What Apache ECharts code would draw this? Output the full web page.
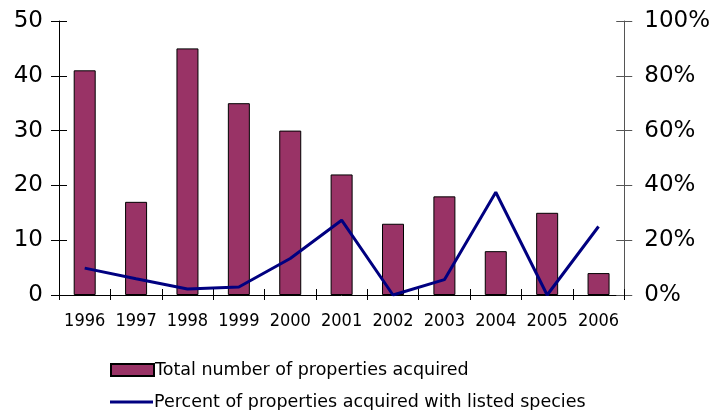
<!DOCTYPE html>
<html>
<head>
<meta charset="utf-8">
<script src="https://cdn.jsdelivr.net/npm/echarts@6/dist/echarts.min.js"></script>
<style>
  html, body { margin: 0; padding: 0; background: #ffffff; }
  #chart { width: 713px; height: 410px; }
</style>
</head>
<body>
<div id="chart"></div>
<script>
// Land acquisitions per year, and the share with listed species
const years = ['1996', '1997', '1998', '1999', '2000', '2001', '2002', '2003', '2004', '2005', '2006'];
const totalAcquired = [41, 17, 45, 35, 30, 22, 13, 18, 8, 15, 4];
const percentListed = [9.8, 5.9, 2.2, 2.9, 13.3, 27.3, 0, 5.6, 37.5, 0, 25];

const countTicks = [0, 50, 10];     // min, max, interval
const percentTicks = [0, 100, 20];

const seriesNames = ['Total number of properties acquired', 'Percent of properties acquired with listed species'];

const FONT = '"DejaVu Sans", sans-serif';
const FONT_NARROW = '"DejaVu Sans Condensed", "DejaVu Sans", sans-serif';

const chart = echarts.init(document.getElementById('chart'), null, { renderer: 'canvas' });

function yAxisBase(side, ticks, withLabels, tickInside, lineColor) {
  return {
    type: 'value',
    position: side,
    min: ticks[0], max: ticks[1], interval: ticks[2],
    splitLine: { show: false },
    axisLine: { show: withLabels, lineStyle: { color: lineColor, width: 1 } },
    axisTick: { show: true, inside: tickInside, length: 8, lineStyle: { color: lineColor, width: 1 } },
    axisLabel: withLabels ? {
      show: true,
      color: '#000',
      fontFamily: FONT,
      fontSize: 23,
      margin: side === 'left' ? 16 : 20,
      formatter: side === 'right' ? '{value}%' : '{value}'
    } : { show: false }
  };
}

function legendRow(name, top, icon, height) {
  return {
    orient: 'vertical',
    left: 105,
    top: top,
    itemWidth: 43,
    itemHeight: height,
    textStyle: { fontFamily: FONT, fontSize: 17.5, color: '#000', padding: [0, 0, 0, -4] },
    data: [{ name: name, icon: icon }]
  };
}

chart.setOption({
  animation: false,
  backgroundColor: '#ffffff',
  grid: { left: 59, right: 88, top: 21, bottom: 115, containLabel: false },
  legend: [
    legendRow(seriesNames[0], 356, 'rect', 12),
    legendRow(seriesNames[1], 388, 'path://M0,0 L43,0 L43,3 L0,3 Z', 3)
  ],
  xAxis: [
    {
      type: 'category',
      data: years,
      position: 'bottom',
      axisLine: { show: true, lineStyle: { color: '#000', width: 1 } },
      axisTick: { show: true, inside: false, length: 5, lineStyle: { color: '#000' } },
      axisLabel: { color: '#000', fontFamily: FONT_NARROW, fontSize: 18, margin: 17, interval: 0 }
    },
    {
      type: 'category',
      data: years,
      position: 'bottom',
      axisLine: { show: false },
      axisTick: { show: true, inside: true, length: 6, lineStyle: { color: '#000' } },
      axisLabel: { show: false }
    }
  ],
  yAxis: [
    yAxisBase('left', countTicks, true, false, '#000'),
    yAxisBase('right', percentTicks, true, false, '#555'),
    yAxisBase('left', countTicks, false, true, '#000'),
    yAxisBase('right', percentTicks, false, true, '#555')
  ],
  series: [
    {
      name: seriesNames[0],
      type: 'bar',
      xAxisIndex: 0,
      yAxisIndex: 0,
      data: totalAcquired,
      barWidth: 22,
      itemStyle: { color: '#993366', borderColor: '#000', borderWidth: 1 }
    },
    {
      name: seriesNames[1],
      type: 'line',
      xAxisIndex: 0,
      yAxisIndex: 1,
      data: percentListed,
      symbol: 'none',
      lineStyle: { color: '#000080', width: 3 },
      itemStyle: { color: '#000080' }
    }
  ]
});
</script>
</body>
</html>
